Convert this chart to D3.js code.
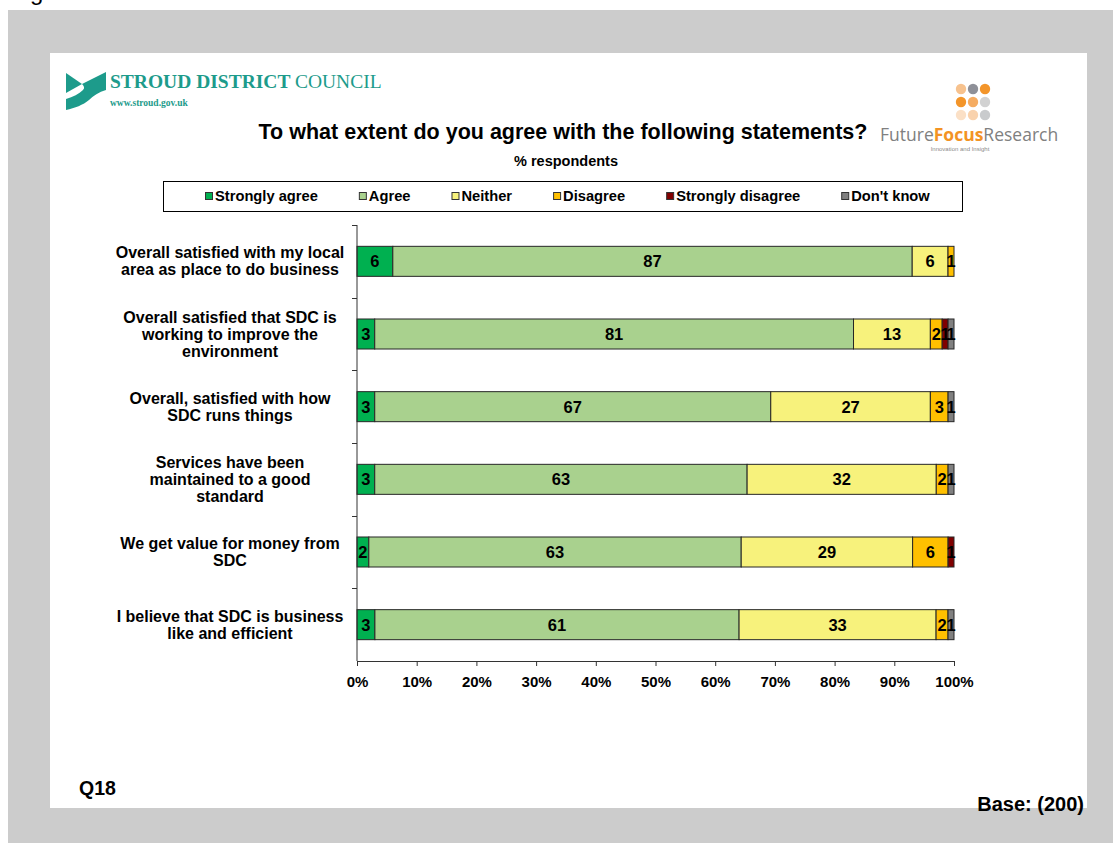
<!DOCTYPE html>
<html>
<head>
<meta charset="utf-8">
<script src="https://cdn.jsdelivr.net/npm/d3@7"></script>
<style>
  html, body { margin: 0; padding: 0; background: #ffffff; }
  svg { display: block; }
  text { font-family: "Liberation Sans", Arial, sans-serif; }
</style>
</head>
<body>
<script>
// Statements (one array of lines per bar)
const categories = [
  ["Overall satisfied with my local", "area as place to do business"],
  ["Overall satisfied that SDC is", "working to improve the", "environment"],
  ["Overall, satisfied with how", "SDC runs things"],
  ["Services have been", "maintained to a good", "standard"],
  ["We get value for money from", "SDC"],
  ["I believe that SDC is business", "like and efficient"]
];

// Response shares (% of respondents)
const stronglyAgree    = [6, 3, 3, 3, 2, 3];
const agree            = [87, 81, 67, 63, 63, 61];
const neither          = [6, 13, 27, 32, 29, 33];
const disagree         = [1, 2, 3, 2, 6, 2];
const stronglyDisagree = [0, 1, 0, 0, 1, 0];
const dontKnow         = [0, 1, 1, 1, 0, 1];

const seriesNames = ["Strongly agree", "Agree", "Neither", "Disagree", "Strongly disagree", "Don't know"];
const seriesValues = [stronglyAgree, agree, neither, disagree, stronglyDisagree, dontKnow];
const seriesColors = ["#00b050", "#a9d18e", "#f7f27c", "#ffc000", "#800000", "#808080"];

const xTicks = [0, 0.1, 0.2, 0.3, 0.4, 0.5, 0.6, 0.7, 0.8, 0.9, 1];

const W = 1113, H = 843;
const svg = d3.select("body").append("svg").attr("width", W).attr("height", H);

// Page frame
svg.append("rect").attr("width", W).attr("height", H).attr("fill", "#ffffff");
svg.append("text").attr("x", 30).attr("y", 0).attr("font-size", 24).attr("fill", "#000").text("g");
svg.append("rect").attr("x", 8).attr("y", 10).attr("width", W - 8).attr("height", H - 10).attr("fill", "#cccccc");
svg.append("rect").attr("x", 50).attr("y", 53).attr("width", 1037).attr("height", 755).attr("fill", "#ffffff");

// Stroud District Council logo
const teal = "#1d9b8b";
const logo = svg.append("g");
logo.append("path")
  .attr("d", "M66,73 L82,84 L66,93 Z")
  .attr("fill", teal);
logo.append("path")
  .attr("d", "M82,84 L106,72 L106,90 C99,92 93,96 89,100 C83,105 75,108 66,110 L66,99 C73,97 79,94 83,90 C85,88 84,86 82,84 Z")
  .attr("fill", teal);
const logoText = logo.append("text")
  .attr("x", 110).attr("y", 88)
  .attr("font-size", 19.5).attr("fill", teal)
  .style("font-family", "'Liberation Serif', 'DejaVu Serif', serif");
logoText.append("tspan").attr("font-weight", "bold").style("font-family", "'Liberation Serif', serif").text("STROUD DISTRICT ");
logoText.append("tspan").style("font-family", "'Liberation Serif', serif").text("COUNCIL");
logo.append("text")
  .attr("x", 110).attr("y", 106)
  .style("font-family", "'Liberation Serif', serif")
  .attr("font-size", 9.5).attr("font-weight", "bold").attr("fill", teal)
  .text("www.stroud.gov.uk");

// Future Focus Research logo
const dotColors = [
  ["#f7c28e", "#8e9098", "#f3952a"],
  ["#f3952a", "#f5ac62", "#d2d2d2"],
  ["#fbe0c6", "#f9d2ad", "#c9cbcd"]
];
const ffr = svg.append("g");
dotColors.forEach((row, r) => row.forEach((c, k) => {
  ffr.append("circle").attr("cx", 961 + k * 12).attr("cy", 89 + r * 13).attr("r", 5.2).attr("fill", c);
}));
const ffrText = ffr.append("text").attr("x", 880).attr("y", 141).attr("font-size", 17.5).style("font-family", "'Open Sans', 'Liberation Sans', sans-serif");
ffrText.append("tspan").attr("fill", "#808080").text("Future");
ffrText.append("tspan").attr("fill", "#f39324").attr("font-weight", "bold").text("Focus");
ffrText.append("tspan").attr("fill", "#808080").text("Research");
ffr.append("text").attr("x", 960).attr("y", 151).attr("text-anchor", "middle")
  .attr("font-size", 6).attr("fill", "#8a8a8a").text("Innovation and Insight");

// Titles
svg.append("text").attr("x", 563).attr("y", 139).attr("text-anchor", "middle")
  .attr("font-size", 21.5).attr("font-weight", "bold").attr("fill", "#000")
  .text("To what extent do you agree with the following statements?");
svg.append("text").attr("x", 566).attr("y", 166).attr("text-anchor", "middle")
  .attr("font-size", 14.5).attr("font-weight", "bold").attr("fill", "#000")
  .text("% respondents");

// Legend
const legend = svg.append("g");
legend.append("rect").attr("x", 163.5).attr("y", 181.5).attr("width", 799).attr("height", 30)
  .attr("fill", "#fff").attr("stroke", "#000").attr("stroke-width", 1);
let lx = 205;
seriesNames.forEach((name, i) => {
  legend.append("rect").attr("x", lx + 0.5).attr("y", 192.5).attr("width", 7).attr("height", 7)
    .attr("fill", seriesColors[i]).attr("stroke", "#333").attr("stroke-width", 1);
  const t = legend.append("text").attr("x", lx + 10).attr("y", 201)
    .attr("font-size", 14.7).attr("font-weight", "bold").attr("fill", "#000").text(name);
  lx += 10 + t.node().getComputedTextLength() + 41;
});

// Chart
const plot = { left: 357, right: 954, top: 225, bottom: 661 };
const rows = categories.map((c, i) => {
  const r = { key: i };
  seriesNames.forEach((s, j) => { r[s] = seriesValues[j][i]; });
  return r;
});
const stack = d3.stack().keys(seriesNames).offset(d3.stackOffsetExpand);
const layers = stack(rows);

const x = d3.scaleLinear().domain([0, 1]).range([plot.left, plot.right]);
const y = d3.scaleBand().domain(d3.range(categories.length)).range([plot.top, plot.bottom])
  .paddingInner(0.587).paddingOuter(0.2935);

const layerG = svg.append("g").selectAll("g").data(layers).join("g")
  .attr("fill", (d, i) => seriesColors[i]);
layerG.selectAll("rect").data(d => d).join("rect")
  .attr("x", d => x(d[0]))
  .attr("y", d => y(d.data.key))
  .attr("width", d => x(d[1]) - x(d[0]))
  .attr("height", y.bandwidth())
  .attr("stroke", "#262626").attr("stroke-width", 1);

// Value labels
layers.forEach((layer, i) => {
  svg.append("g").selectAll("text").data(layer.filter(d => d.data[seriesNames[i]] > 0)).join("text")
    .attr("x", d => (x(d[0]) + x(d[1])) / 2)
    .attr("y", d => y(d.data.key) + y.bandwidth() / 2 + 6)
    .attr("text-anchor", "middle")
    .attr("font-size", 16.5).attr("font-weight", "bold").attr("fill", "#000")
    .text(d => d.data[seriesNames[i]]);
});

// X axis
const xAxis = svg.append("g").attr("transform", `translate(0,${plot.bottom})`)
  .call(d3.axisBottom(x).tickValues(xTicks).tickFormat(d3.format(".0%")).tickSize(5).tickSizeOuter(0));
xAxis.select(".domain").attr("stroke", "#333");
xAxis.selectAll(".tick line").attr("stroke", "#333");
xAxis.selectAll(".tick text").attr("font-size", 15).attr("font-weight", "bold")
  .attr("fill", "#000").attr("dy", "1.2em")
  .style("font-family", "'Liberation Sans', Arial, sans-serif");

// Y axis: line with ticks at band boundaries
const yAxis = svg.append("g");
yAxis.append("line").attr("x1", plot.left).attr("x2", plot.left)
  .attr("y1", plot.top).attr("y2", plot.bottom).attr("stroke", "#333");
d3.range(categories.length).forEach(i => {
  const yy = Math.round(plot.top + i * y.step()) + 0.5;
  yAxis.append("line").attr("x1", plot.left - 5).attr("x2", plot.left)
    .attr("y1", yy).attr("y2", yy).attr("stroke", "#333");
});

// Category labels
categories.forEach((lines, i) => {
  const cy = y(i) + y.bandwidth() / 2;
  const lh = 17;
  const t = svg.append("text").attr("text-anchor", "middle")
    .attr("font-size", 16).attr("font-weight", "bold").attr("fill", "#000");
  lines.forEach((ln, k) => {
    t.append("tspan").attr("x", 230)
      .attr("y", cy + (k - (lines.length - 1) / 2) * lh + 5.5)
      .text(ln);
  });
});

// Footer
svg.append("text").attr("x", 79).attr("y", 795).attr("font-size", 19.5).attr("font-weight", "bold").text("Q18");
svg.append("text").attr("x", 1084).attr("y", 811).attr("text-anchor", "end")
  .attr("font-size", 20).attr("font-weight", "bold").text("Base: (200)");
</script>
</body>
</html>
